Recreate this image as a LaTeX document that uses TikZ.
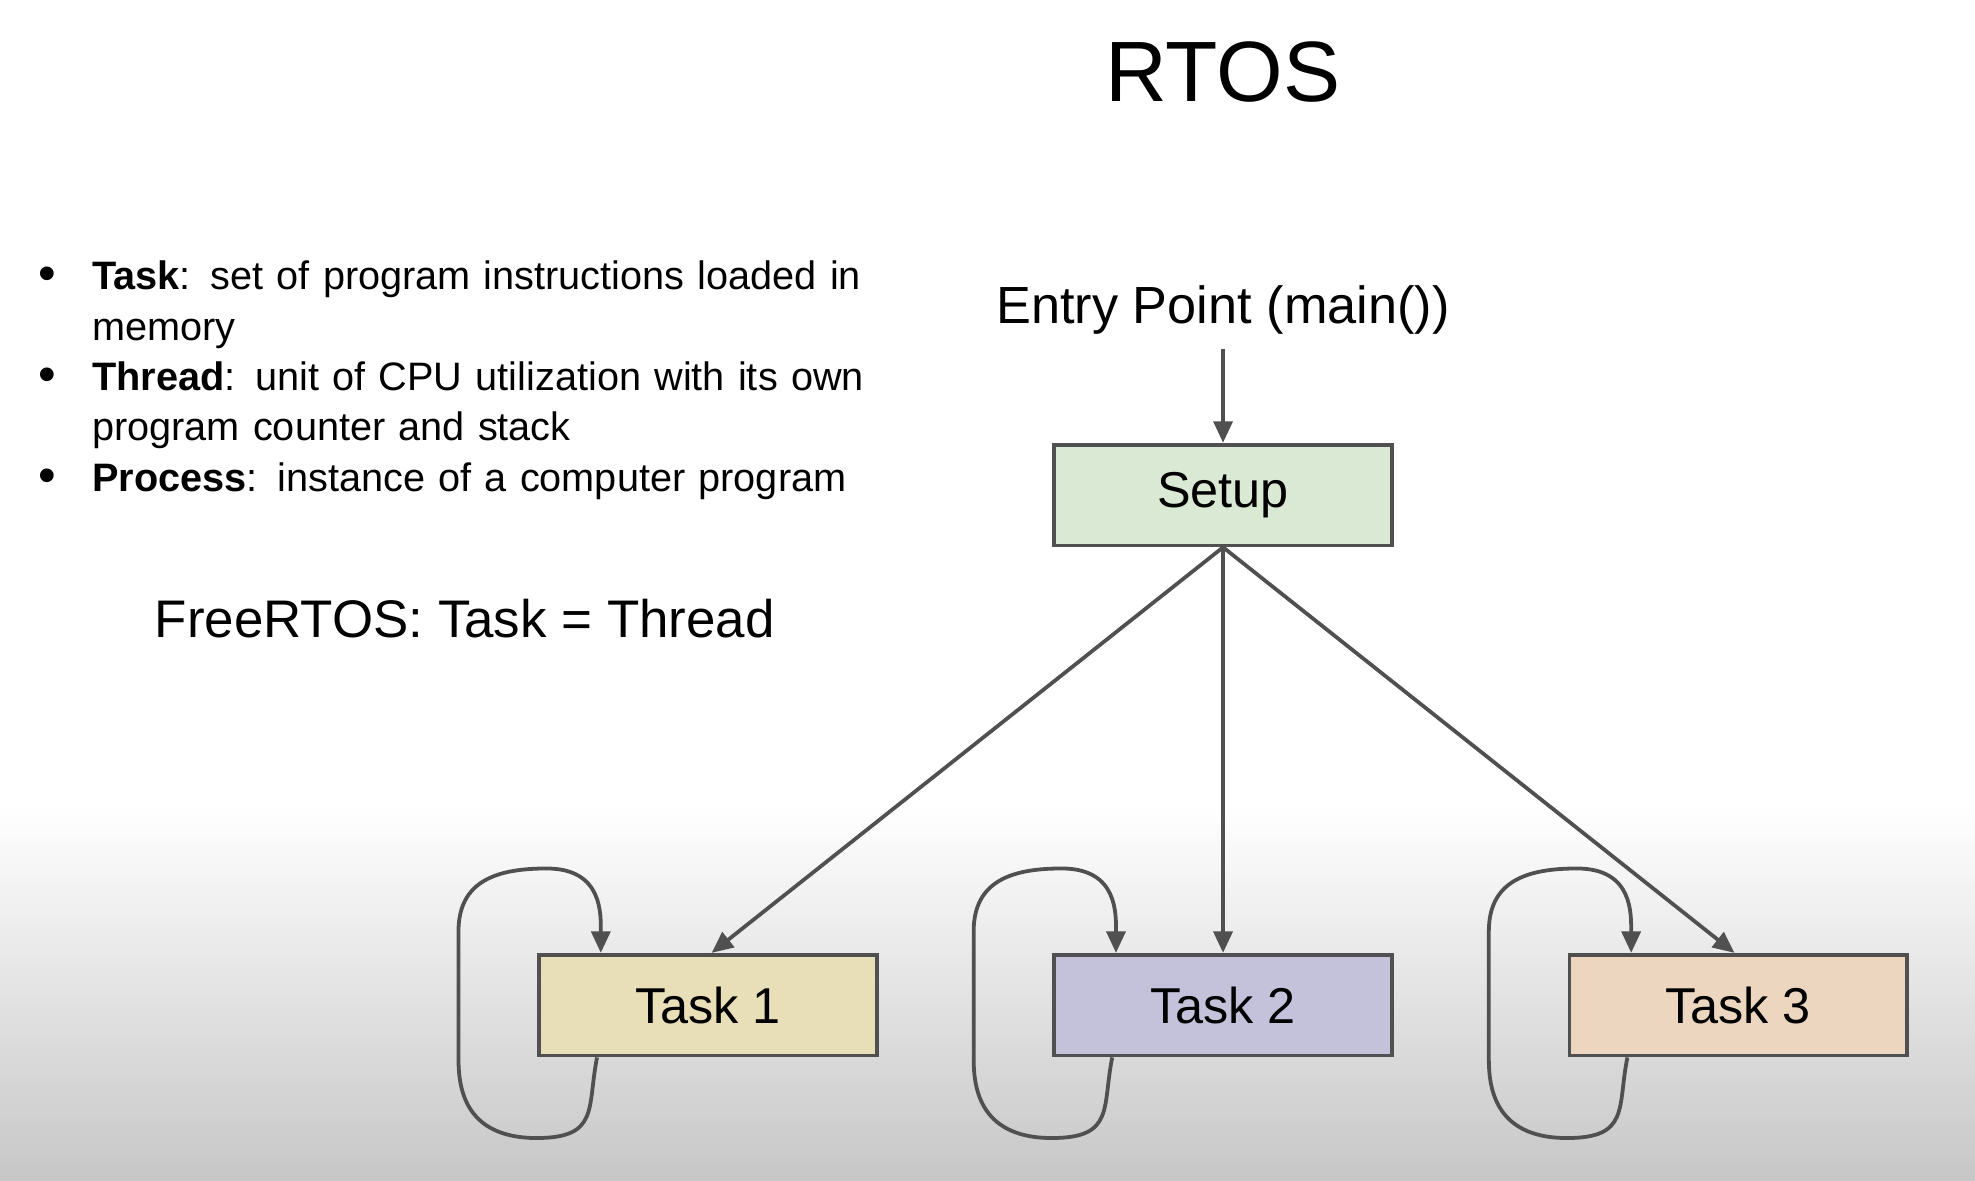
\documentclass[tikz,border=0pt]{standalone}
\usepackage{fontspec}
\setmainfont{Liberation Sans}
\usetikzlibrary{arrows.meta}
\definecolor{ln}{HTML}{505050}
\tikzset{
 box/.style={draw=ln,line width=3pt,minimum width=268pt,minimum height=80pt,font=\fontsize{40}{46}\selectfont,inner sep=0pt},
 arr/.style={draw=ln,line width=3pt,-{Triangle[length=17pt,width=15pt]}},
 bul/.style={anchor=north west,font=\fontsize{31.5}{40}\selectfont,text width=700pt,align=left,inner sep=0pt}
}
\newcommand{\bl}{\makebox[43pt][l]{\raisebox{-1pt}{\fontsize{40}{40}\selectfont\textbullet}}}
\begin{document}
\begin{tikzpicture}[x=1pt,y=-1pt]
\useasboundingbox (0,0) rectangle (1568,937);
\fill[white] (0,0) rectangle (1568,640);
\shade[top color=white,bottom color=black!22] (0,640) rectangle (1568,937);
\node[font=\fontsize{68}{76}\selectfont] (title) at (971,57) {RTOS};
\node[bul] (b1) at (30,207) {\bl\textbf{Task}: set of program instructions loaded in\\\hspace*{43pt}memory\\\bl\textbf{Thread}: unit of CPU utilization with its own\\\hspace*{43pt}program counter and stack\\\bl\textbf{Process}: instance of a computer program};
\node[font=\fontsize{42}{48}\selectfont] (free) at (369,491) {FreeRTOS: Task = Thread};
\node[font=\fontsize{41.5}{48}\selectfont] (entry) at (971,246) {Entry Point (main())};
\node[box,fill={rgb,255:red,217;green,233;blue,211}] (setup) at (971,393) {Setup};
\node[box,fill={rgb,255:red,232;green,222;blue,183}] (t1) at (562,798) {Task 1};
\node[box,fill={rgb,255:red,196;green,194;blue,219}] (t2) at (971,798) {Task 2};
\node[box,fill={rgb,255:red,236;green,214;blue,191}] (t3) at (1380,798) {Task 3};
\coordinate (e) at (971,277);
\draw[arr] (e) -- (setup.north);
\draw[arr] (setup.south) -- ([xshift=3pt]t1.north);
\draw[arr] (setup.south) -- (t2.north);
\draw[arr] (setup.south) -- ([xshift=-3pt]t3.north);
\foreach \t in {t1,t2,t3}{
 \draw[arr] ([xshift=-88pt]\t.south) .. controls +(-8,40) and +(50,0) .. +(-48,64)
   .. controls +(-60,0) and +(0,20) .. +(-110,0)
   .. controls +(0,-40) and +(0,20) .. +(-110,-100)
   .. controls +(0,-40) and +(-40,0) .. +(-40,-150)
   .. controls +(45,0) and +(0,-30) .. ([xshift=-85pt]\t.north);
}
\end{tikzpicture}
\end{document}
